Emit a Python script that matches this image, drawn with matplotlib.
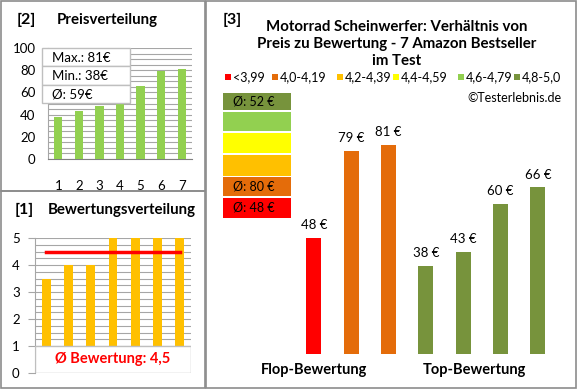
import matplotlib
matplotlib.use("Agg")
import matplotlib.pyplot as plt
from matplotlib.patches import Rectangle
import numpy as np

plt.rcParams["font.family"] = ["Lato", "DejaVu Sans"]

# --- data -------------------------------------------------------------
price_idx = [1, 2, 3, 4, 5, 6, 7]
price_sorted = [38, 43, 48, 60, 66, 79, 81]
price_stats = ["Max.: 81€", "Min.: 38€", "Ø: 59€"]

rating_vals = [3.5, 4, 4, 5, 5, 5, 5]
rating_mean = 4.5
rating_label = "Ø Bewertung: 4,5"

bar_prices = [48, 79, 81, 38, 43, 60, 66]
bar_groups = ["red", "orange", "orange", "olive", "olive", "olive", "olive"]
group_names = ["Flop-Bewertung", "Top-Bewertung"]
group_pos = [0, 4.3]

legend_labels = ["<3,99", "4,0-4,19", "4,2-4,39", "4,4-4,59", "4,6-4,79", "4,8-5,0"]
legend_keys = ["red", "orange", "gold", "yellow", "lgreen", "olive"]
column_keys = ["olive", "lgreen", "yellow", "gold", "orange", "red"]
column_text = ["Ø: 52 €", "", "", "", "Ø: 80 €", "Ø: 48 €"]

COL = {"red": "#FF0000", "orange": "#E46C0A", "gold": "#FFC000",
       "yellow": "#FFFF00", "lgreen": "#92D050", "olive": "#77933C"}
GRID = "#A6A6A6"
FRAME = "#8C8C8C"
W, H = 580, 390


def fx(x):
    return x / W


def fy(y):
    return 1 - y / H


def box(x0, y0, x1, y1, **kw):
    return Rectangle((fx(x0), fy(y1)), fx(x1) - fx(x0), fy(y0) - fy(y1),
                     transform=fig.transFigure, figure=fig, **kw)


fig = plt.figure(figsize=(5.8, 3.9), dpi=100)

# panel frames
for x0, y0, x1, y1 in [(1, 1, 205, 191), (1, 191, 205, 388), (206, 1, 576, 388)]:
    fig.patches.append(box(x0, y0, x1, y1, fill=False, ec=FRAME, lw=1.2))

# --- [2] Preisverteilung ----------------------------------------------
ax1 = fig.add_axes([fx(48), fy(159), fx(192) - fx(48), fy(48) - fy(159)])
ax1.bar(price_idx, price_sorted, width=0.4, color=COL["lgreen"], zorder=3)
ax1.set_xlim(0.5, 7.5)
ax1.set_ylim(0, 100)
ax1.set_yticks(range(0, 101, 20))
ax1.set_yticks(range(0, 101, 5), minor=True)
ax1.set_xticks(price_idx)
ax1.grid(axis="y", which="both", color=GRID, lw=0.8, zorder=0)
ax1.tick_params(axis="y", which="both", length=0, pad=9, labelsize=9.5)
ax1.tick_params(axis="x", length=0, pad=15, labelsize=9.5)
for s in ["top", "right"]:
    ax1.spines[s].set_visible(False)
ax1.spines["left"].set_color(GRID)
ax1.spines["bottom"].set_color("#808080")
fig.text(fx(17), fy(20), "[2]", fontsize=11.5, fontweight="bold", va="center")
fig.text(fx(57), fy(20), "Preisverteilung", fontsize=10.8, fontweight="bold", va="center")

# stats box
for i, t in enumerate(price_stats):
    y0 = 48 + i * 18.3
    fig.patches.append(box(42, y0, 130, y0 + 18.3, fc="white", ec="#BFBFBF", lw=1, zorder=5))
    fig.text(fx(52), fy(y0 + 9.5), t, fontsize=9.5, va="center", zorder=6)

# --- [1] Bewertungsverteilung -----------------------------------------
ax2 = fig.add_axes([fx(35), fy(373), fx(191) - fx(35), fy(238) - fy(373)])
ax2.bar(price_idx, rating_vals, width=0.4, color=COL["gold"], zorder=3)
ax2.plot([price_idx[0], price_idx[-1]], [rating_mean, rating_mean],
         color="#FF0000", lw=2.5, zorder=4)
ax2.set_xlim(0.5, 7.5)
ax2.set_ylim(0, 5)
ax2.set_yticks(range(0, 6))
ax2.set_yticks(np.arange(0, 5.01, 0.25), minor=True)
ax2.set_xticks([])
ax2.grid(axis="y", which="both", color=GRID, lw=0.8, zorder=0)
ax2.tick_params(axis="y", which="major", length=5, color=GRID, pad=6, labelsize=9.5)
ax2.tick_params(axis="y", which="minor", length=0)
for s in ["top", "right", "bottom"]:
    ax2.spines[s].set_visible(False)
ax2.spines["left"].set_color(GRID)
ax2.add_patch(Rectangle((0.5, 0), 7, 1, fc="white", ec="#BFBFBF", lw=1, zorder=5))
ax2.text(4, 0.5, rating_label, color="#FF0000", fontsize=10.5, fontweight="bold",
         ha="center", va="center", zorder=6)
fig.text(fx(15), fy(210), "[1]", fontsize=11.5, fontweight="bold", va="center")
fig.text(fx(48), fy(210), "Bewertungsverteilung", fontsize=10.8, fontweight="bold", va="center")

# --- [3] Preis zu Bewertung -------------------------------------------
y_floor = 6.7
ax3 = fig.add_axes([fx(222), fy(354), fx(560) - fx(222), fy(92) - fy(354)])
pos = np.arange(len(bar_prices))
ax3.bar(pos, bar_prices, width=0.4, color=[COL[g] for g in bar_groups])
for p, v in zip(pos, bar_prices):
    ax3.annotate(f"{v} €", (p, v), xytext=(0, 5), textcoords="offset points",
                 ha="center", va="bottom", fontsize=9.5)
ax3.set_xlim(-2.46, 6.59)
ax3.set_ylim(y_floor, 100)
ax3.axis("off")
for name, gx in zip(group_names, group_pos):
    ax3.text(gx, -0.06, name, transform=ax3.get_xaxis_transform(), ha="center",
             va="center", fontsize=10.5, fontweight="bold")

fig.text(fx(223), fy(20), "[3]", fontsize=11.5, fontweight="bold", va="center")
fig.text(fx(397), fy(44), "Motorrad Scheinwerfer: Verhältnis von\n"
         "Preis zu Bewertung - 7 Amazon Bestseller\nim Test",
         fontsize=10.8, fontweight="bold", ha="center", va="center", linespacing=1.3)

# colour legend row
sq_x = [225, 272, 337, 393, 458, 514]
for x, key, lab in zip(sq_x, legend_keys, legend_labels):
    fig.patches.append(box(x, 74, x + 6, 80, fc=COL[key], ec="none"))
    fig.text(fx(x + 8), fy(77), lab, fontsize=9, va="center")
fig.text(fx(562), fy(98), "©Testerlebnis.de", fontsize=9, ha="right", va="center")

# colour column
row_y = [(93, 110), (112, 131), (133, 153), (155, 176), (177, 196), (198, 218)]
for (y0, y1), key, t in zip(row_y, column_keys, column_text):
    fig.patches.append(box(223, y0, 291, y1, fc=COL[key], ec="none"))
    if t:
        fig.text(fx(233), fy((y0 + y1) / 2), t, fontsize=9, va="center")

fig.savefig("out.png", dpi=100)
